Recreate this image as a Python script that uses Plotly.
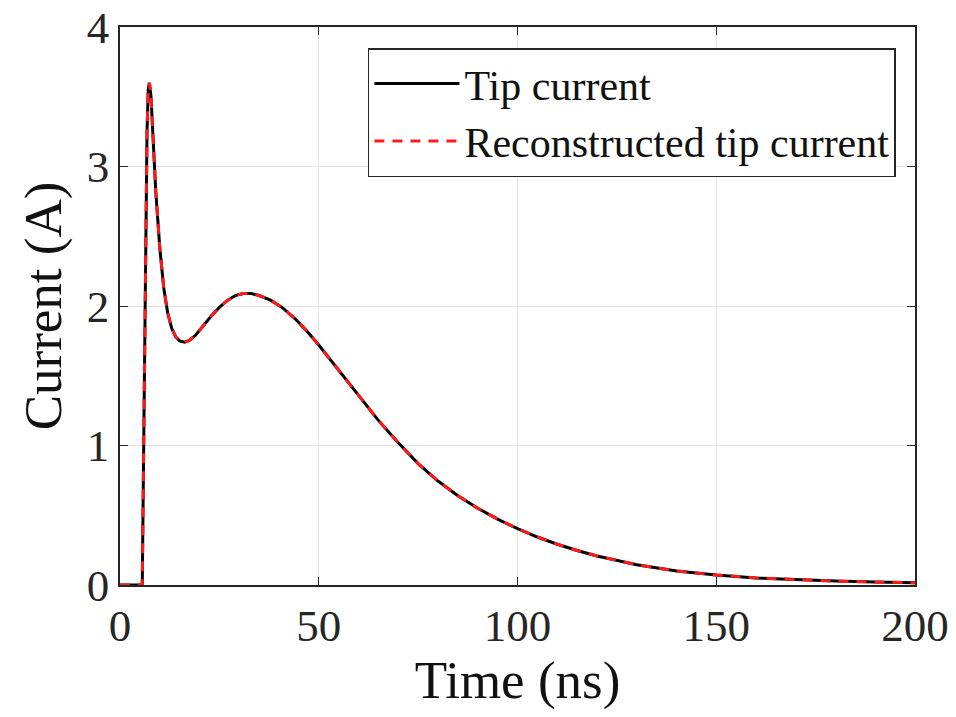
import plotly.graph_objects as go

time_ns = [0, 5.6, 6.0, 6.4, 6.8, 7.1, 7.4, 7.8, 8.3, 9.0, 10.0, 11.0, 12.0, 13.0, 14.0,
           15.0, 16.3, 17.5, 19, 21, 23, 25, 27, 29, 31, 33, 35, 38, 41, 44, 47, 50,
           55, 60, 65, 70, 75, 80, 85, 90, 95, 100, 105, 110, 115, 120, 125, 130,
           140, 150, 160, 170, 180, 190, 200]
tip_current = [0, 0, 1.1, 2.3, 3.25, 3.55, 3.60, 3.5, 3.2, 2.82, 2.42, 2.13, 1.95, 1.84, 1.78,
               1.75, 1.74, 1.755, 1.79, 1.86, 1.93, 1.99, 2.04, 2.075, 2.09, 2.09, 2.075,
               2.04, 1.985, 1.91, 1.82, 1.72, 1.54, 1.36, 1.18, 1.02, 0.87, 0.745, 0.64,
               0.55, 0.472, 0.404, 0.344, 0.292, 0.247, 0.208, 0.174, 0.145, 0.101, 0.071,
               0.051, 0.038, 0.028, 0.021, 0.016]
reconstructed = list(tip_current)

x_ticks = [0, 50, 100, 150, 200]
y_ticks = [0, 1, 2, 3, 4]

FONT = "Liberation Serif, Times New Roman, serif"

fig = go.Figure()
fig.add_trace(go.Scatter(x=time_ns, y=tip_current, mode="lines", name="Tip current",
                         line=dict(color="black", width=3)))
fig.add_trace(go.Scatter(x=time_ns, y=reconstructed, mode="lines", name="Reconstructed tip current",
                         line=dict(color="#ff1a1a", width=3, dash="10px,8px")))

axis_common = dict(showline=True, linecolor="#262626", linewidth=1.5, mirror="ticks",
                   ticks="inside", ticklen=8, tickcolor="#262626", tickwidth=1,
                   showgrid=True, gridcolor="#e3e3e3", gridwidth=1, zeroline=False,
                   automargin=False,
                   tickfont=dict(family=FONT, size=45, color="#262626"))

fig.update_layout(
    width=956, height=717,
    margin=dict(l=120, r=41, t=27, b=132),
    paper_bgcolor="white", plot_bgcolor="white",
    font=dict(family=FONT, color="#111"),
    xaxis=dict(range=[0, 200], tickvals=x_ticks, ticktext=[str(v) for v in x_ticks],
               title=dict(text="Time (ns)", font=dict(family=FONT, size=53, color="#111"), standoff=2),
               **axis_common),
    yaxis=dict(range=[0, 4], tickvals=y_ticks, ticktext=[str(v) for v in y_ticks],
               title=dict(text="Current (A)", font=dict(family=FONT, size=53, color="#111"), standoff=8),
               **axis_common),
    legend=dict(x=0.976, y=0.962, xanchor="right", yanchor="top",
                bgcolor="white", bordercolor="#262626", borderwidth=1.5,
                font=dict(family=FONT, size=42, color="#111"),
                itemwidth=85, tracegroupgap=0),
    showlegend=True,
)

fig.write_html("out.html")
